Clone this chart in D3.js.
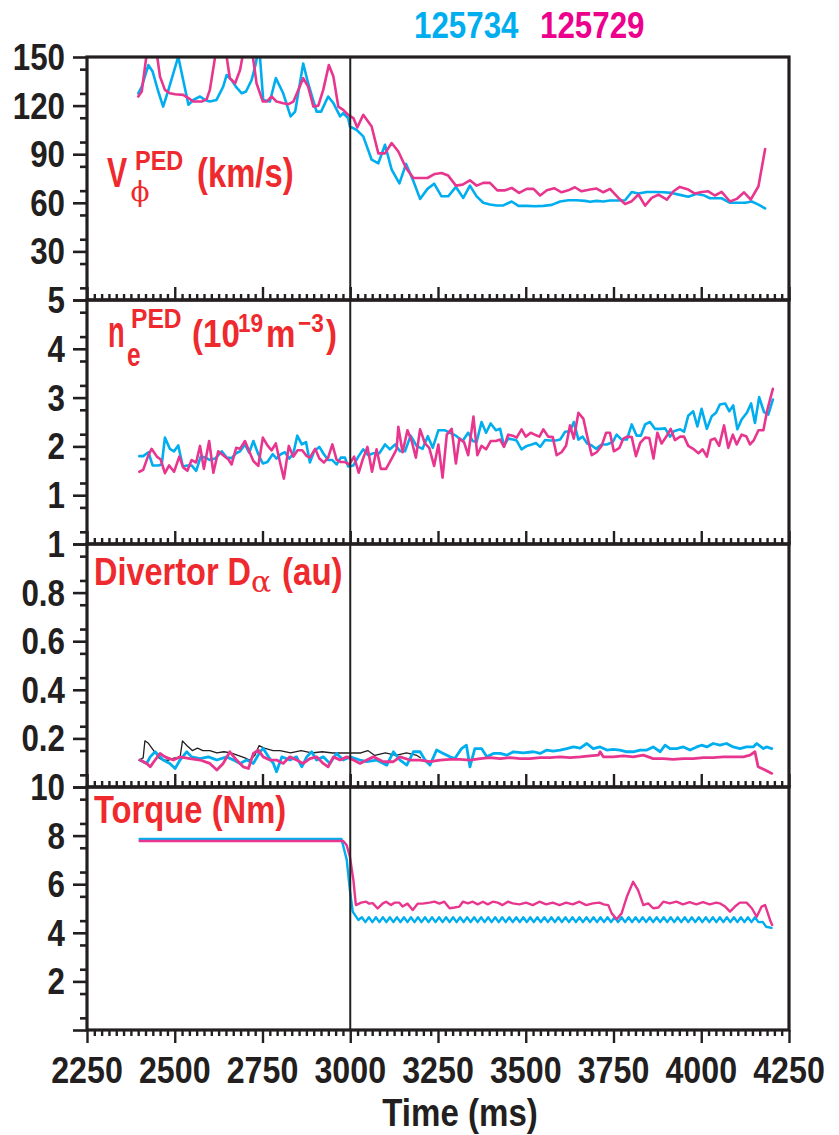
<!DOCTYPE html>
<html><head><meta charset="utf-8">
<script src="https://cdn.jsdelivr.net/npm/d3@7"></script>
<style>body{margin:0;background:#fff}svg{display:block}</style>
</head><body>
<svg id="chart" width="839" height="1135"></svg>
<script>
// ---------------- DATA ----------------
const shots = ["125734", "125729"];
const timeTicks = [2250, 2500, 2750, 3000, 3250, 3500, 3750, 4000, 4250];
const timeMarker = 3000;

const vphiTicks = [30, 60, 90, 120, 150];
const neTicks = [1, 2, 3, 4, 5];
const daTicks = [0.2, 0.4, 0.6, 0.8, 1];
const daTickLabels = ["0.2", "0.4", "0.6", "0.8", "1"];
const tqTicks = [2, 4, 6, 8, 10];

// V_phi pedestal (km/s)
const vphiCyan = [[2396,127.6],[2406,131.7],[2425,145],[2437,141],[2453,128.7],[2467,119.4],[2482,129.7],[2510,150.2],[2524,135.8],[2539,120.5],[2553,123.5],[2572,125.6],[2586,123.5],[2600,122.5],[2619,123.5],[2638,131.7],[2648,138.9],[2662,135.8],[2674,131.7],[2691,127.6],[2703,128.7],[2719,135.8],[2731,146],[2740,158],[2752,123.5],[2771,122.5],[2788,137],[2809,127.6],[2830,113.3],[2843,116.3],[2866,146],[2880,133.8],[2904,116.3],[2917,116.3],[2937,125.6],[2952,121.5],[2971,113.3],[2980,115.3],[2994,112.3],[2999,107.1],[3018,105],[3037,101],[3061,86.6],[3080,84.4],[3099,95.8],[3118,80.5],[3140,72],[3159,84],[3180,73.3],[3199,62.4],[3220,68.6],[3239,71.8],[3260,64],[3279,64],[3301,69.8],[3322,63],[3341,70.6],[3360,64],[3379,60],[3398,58.9],[3417,58.3],[3436,58.4],[3460,60.8],[3479,58.1],[3503,58.1],[3526,57.9],[3550,58.1],[3574,58.7],[3598,60.8],[3621,61.6],[3645,61.6],[3669,61.2],[3683,60.6],[3702,61.2],[3721,60.8],[3740,61.4],[3764,61.4],[3783,61.6],[3802,66.7],[3821,65.7],[3845,66.7],[3868,66.7],[3892,66.5],[3916,66.1],[3939,64.9],[3963,63.7],[3987,65.5],[4006,64.7],[4025,62.8],[4058,62.8],[4082,60],[4106,60],[4125,60],[4144,60.8],[4163,58.9],[4182,56.5]];
const vphiMagenta = [[2396,125.6],[2406,128.7],[2434,175],[2458,137.9],[2472,129.7],[2486,127.6],[2501,127],[2524,126.6],[2539,124.6],[2553,122.5],[2577,122.5],[2591,124],[2600,129.7],[2632,173],[2657,136.9],[2672,133.8],[2686,142],[2710,170],[2733,133.8],[2751,122.5],[2762,122.5],[2776,125.6],[2790,122.5],[2809,121.5],[2824,120.9],[2838,122.5],[2852,129.7],[2866,136.9],[2880,131.7],[2895,119.4],[2909,120],[2923,129.7],[2939,145],[2952,137.9],[2966,119.4],[2980,117.4],[2994,114.3],[3009,112.3],[3020,106.5],[3037,114.3],[3061,107.1],[3080,90.5],[3099,90.5],[3118,96.9],[3137,91.7],[3159,81.5],[3180,75.3],[3199,75.3],[3220,75.3],[3241,77.8],[3260,78.4],[3279,76.8],[3301,70.6],[3320,71.2],[3341,73.9],[3360,70.6],[3379,72.3],[3398,72.3],[3419,67.7],[3441,67.7],[3460,69.2],[3481,66.1],[3503,68.6],[3522,68.6],[3541,64.5],[3560,67.7],[3581,69],[3602,66.5],[3621,67.7],[3640,69.6],[3659,67.1],[3683,68.2],[3702,68.8],[3721,66.5],[3740,68.6],[3764,63],[3783,59.3],[3802,61],[3821,65.1],[3840,58.3],[3859,63],[3878,65.1],[3902,62],[3921,67.1],[3939,69.8],[3963,68.2],[3982,65.7],[4001,66.7],[4020,67.1],[4039,64.5],[4058,66.7],[4082,60.8],[4101,62.4],[4122,66.5],[4141,62],[4163,70.2],[4182,93.2]];

// n_e pedestal (1e19 m^-3)
const neCyan = [[2399,1.80],[2410,1.80],[2425,1.88],[2437,1.61],[2453,1.61],[2463,1.63],[2472,2.18],[2486,1.95],[2498,1.90],[2510,2.02],[2523,1.59],[2536,1.61],[2548,1.61],[2561,1.50],[2574,1.79],[2589,1.77],[2600,1.72],[2615,1.75],[2634,1.90],[2648,1.77],[2662,1.76],[2675,1.86],[2686,1.90],[2700,2.04],[2712,1.87],[2724,2.11],[2738,1.84],[2751,1.65],[2764,1.68],[2779,1.84],[2790,1.75],[2802,1.84],[2814,1.88],[2826,1.75],[2838,1.86],[2849,2.22],[2862,2.04],[2874,2.09],[2885,1.67],[2897,1.90],[2912,1.99],[2923,1.86],[2937,1.72],[2949,1.72],[2961,1.63],[2973,1.77],[2985,1.77],[2994,1.59],[3009,1.61],[3023,1.79],[3037,1.94],[3051,1.82],[3066,1.86],[3083,1.86],[3099,2.04],[3113,1.94],[3128,2.04],[3142,1.90],[3156,1.90],[3172,2.22],[3189,2.01],[3206,1.95],[3221,2.21],[3235,1.97],[3251,2.33],[3270,2.33],[3284,2.28],[3301,2.22],[3320,2.11],[3336,2.28],[3349,2.11],[3360,2.09],[3374,2.50],[3387,2.28],[3400,2.47],[3415,2.33],[3427,2.36],[3438,2.01],[3450,2.16],[3464,2.14],[3474,2.12],[3488,1.94],[3503,2.01],[3517,2.04],[3529,2.07],[3541,1.99],[3555,2.13],[3569,2.12],[3586,2.12],[3598,2.14],[3612,2.30],[3626,2.31],[3637,2.50],[3650,2.14],[3662,2.20],[3675,2.06],[3688,2.02],[3700,1.95],[3716,2.04],[3731,2.04],[3748,2.09],[3759,2.24],[3773,2.14],[3788,2.14],[3802,2.45],[3816,2.22],[3828,2.22],[3840,2.45],[3854,2.50],[3868,2.36],[3883,2.36],[3897,2.37],[3911,2.20],[3922,2.31],[3940,2.35],[3951,2.30],[3963,2.63],[3977,2.72],[3989,2.41],[4001,2.77],[4016,2.36],[4030,2.62],[4042,2.69],[4053,2.86],[4068,2.88],[4080,2.72],[4091,2.84],[4103,2.35],[4115,2.55],[4130,2.69],[4142,2.88],[4153,2.48],[4165,3.01],[4179,2.70],[4191,2.65],[4204,2.96]];
const neMagenta = [[2399,1.48],[2410,1.52],[2425,1.82],[2434,1.95],[2449,1.79],[2460,1.73],[2472,1.45],[2484,1.61],[2498,1.48],[2513,1.79],[2524,1.57],[2536,1.50],[2548,1.72],[2561,1.67],[2572,2.01],[2583,1.54],[2598,2.11],[2610,1.46],[2624,1.90],[2638,1.82],[2653,1.73],[2662,1.63],[2675,1.97],[2686,1.95],[2700,2.11],[2712,1.90],[2724,1.70],[2738,1.60],[2751,2.18],[2764,2.02],[2776,1.92],[2788,2.06],[2800,1.67],[2811,1.34],[2825,2.01],[2838,1.79],[2850,1.92],[2863,1.92],[2876,1.80],[2885,1.77],[2900,1.95],[2912,1.75],[2925,1.67],[2937,1.77],[2949,2.04],[2961,1.73],[2973,1.68],[2985,1.68],[2997,1.63],[3011,1.79],[3024,1.46],[3035,1.72],[3049,1.99],[3062,1.48],[3075,1.94],[3087,1.54],[3102,1.54],[3118,1.75],[3132,1.94],[3137,2.40],[3149,1.88],[3163,2.33],[3175,2.11],[3187,1.77],[3199,2.35],[3213,2.06],[3225,1.97],[3239,1.60],[3251,2.04],[3263,1.36],[3275,2.24],[3289,2.36],[3301,1.65],[3311,2.16],[3324,2.09],[3336,1.82],[3351,2.61],[3362,1.82],[3374,2.01],[3387,1.94],[3400,2.11],[3415,2.11],[3427,2.14],[3438,1.99],[3450,2.24],[3463,2.22],[3474,2.18],[3488,2.35],[3500,2.20],[3514,2.28],[3526,2.24],[3539,2.20],[3550,2.35],[3564,2.20],[3577,2.19],[3588,1.82],[3602,1.88],[3615,2.02],[3626,2.43],[3637,2.16],[3650,2.69],[3664,2.57],[3675,2.21],[3688,1.82],[3702,1.88],[3716,2.01],[3729,2.28],[3740,2.28],[3751,1.90],[3767,1.97],[3778,2.16],[3789,2.20],[3802,2.19],[3814,1.80],[3826,2.07],[3840,2.18],[3852,2.17],[3864,1.75],[3875,2.28],[3887,2.06],[3902,2.22],[3913,2.36],[3925,2.13],[3940,2.20],[3951,2.20],[3963,2.01],[3977,1.95],[3992,1.86],[4004,1.94],[4016,1.79],[4027,2.13],[4039,2.16],[4051,2.01],[4065,2.43],[4077,1.97],[4090,2.24],[4101,2.04],[4115,2.24],[4128,2.21],[4139,2.04],[4150,2.13],[4163,2.33],[4177,2.33],[4188,2.74],[4204,3.18]];

// Divertor D-alpha (au)
const daBlack = [[2398,0.11],[2410,0.12],[2415,0.19],[2425,0.18],[2440,0.15],[2455,0.12],[2466,0.11],[2480,0.11],[2500,0.12],[2515,0.12],[2522,0.19],[2535,0.17],[2550,0.15],[2565,0.16],[2580,0.15],[2600,0.15],[2620,0.14],[2640,0.145],[2660,0.14],[2680,0.13],[2700,0.12],[2714,0.11],[2728,0.13],[2740,0.17],[2755,0.16],[2780,0.15],[2800,0.15],[2830,0.14],[2860,0.15],[2890,0.14],[2920,0.145],[2950,0.14],[2980,0.14],[3000,0.14],[3030,0.14],[3050,0.15],[3070,0.13],[3100,0.14],[3130,0.13],[3160,0.14],[3190,0.13],[3200,0.12]];
const daCyan = [[2401,0.111],[2420,0.097],[2430,0.124],[2444,0.145],[2467,0.111],[2486,0.097],[2501,0.076],[2515,0.111],[2534,0.145],[2548,0.124],[2572,0.117],[2596,0.124],[2620,0.111],[2648,0.124],[2667,0.111],[2686,0.097],[2705,0.111],[2724,0.097],[2743,0.145],[2752,0.158],[2767,0.124],[2781,0.097],[2790,0.063],[2805,0.124],[2828,0.111],[2847,0.124],[2862,0.083],[2876,0.124],[2890,0.145],[2904,0.111],[2923,0.124],[2942,0.097],[2961,0.138],[2980,0.111],[2999,0.124],[3028,0.111],[3047,0.104],[3075,0.111],[3104,0.090],[3123,0.145],[3142,0.111],[3161,0.090],[3180,0.145],[3199,0.145],[3213,0.111],[3227,0.090],[3246,0.152],[3265,0.138],[3284,0.124],[3298,0.117],[3317,0.158],[3331,0.172],[3341,0.083],[3355,0.158],[3374,0.158],[3389,0.124],[3408,0.138],[3427,0.138],[3446,0.131],[3465,0.145],[3493,0.140],[3522,0.145],[3541,0.138],[3560,0.152],[3578,0.148],[3598,0.152],[3617,0.158],[3636,0.165],[3655,0.160],[3674,0.179],[3692,0.158],[3712,0.165],[3731,0.152],[3749,0.155],[3768,0.152],[3788,0.145],[3806,0.145],[3826,0.152],[3845,0.152],[3863,0.165],[3883,0.145],[3897,0.172],[3911,0.158],[3930,0.158],[3949,0.165],[3968,0.152],[3987,0.165],[4001,0.172],[4016,0.165],[4034,0.179],[4053,0.172],[4072,0.179],[4091,0.165],[4110,0.158],[4129,0.165],[4148,0.165],[4158,0.179],[4177,0.158],[4186,0.165],[4201,0.158]];
const daMagenta = [[2401,0.111],[2420,0.097],[2430,0.083],[2444,0.111],[2458,0.138],[2472,0.124],[2496,0.111],[2515,0.124],[2543,0.117],[2572,0.111],[2600,0.097],[2620,0.070],[2638,0.097],[2657,0.145],[2676,0.111],[2695,0.083],[2710,0.076],[2724,0.138],[2738,0.152],[2752,0.124],[2771,0.111],[2790,0.111],[2809,0.097],[2828,0.124],[2847,0.111],[2866,0.097],[2885,0.117],[2904,0.124],[2923,0.097],[2937,0.083],[2952,0.124],[2971,0.111],[2990,0.124],[3009,0.111],[3028,0.097],[3047,0.111],[3066,0.124],[3094,0.104],[3123,0.104],[3142,0.124],[3170,0.111],[3199,0.111],[3227,0.104],[3256,0.111],[3284,0.114],[3313,0.114],[3341,0.111],[3370,0.117],[3398,0.121],[3427,0.117],[3455,0.121],[3484,0.117],[3512,0.117],[3541,0.121],[3569,0.121],[3598,0.124],[3626,0.121],[3655,0.124],[3683,0.128],[3707,0.131],[3712,0.145],[3721,0.124],[3749,0.124],[3778,0.128],[3806,0.124],[3835,0.131],[3863,0.117],[3892,0.117],[3920,0.114],[3949,0.117],[3977,0.117],[4006,0.121],[4034,0.121],[4063,0.124],[4091,0.124],[4120,0.124],[4139,0.131],[4153,0.145],[4162,0.083],[4182,0.070],[4201,0.056]];

// Torque (Nm)
const tqCyanHead = [[2400,7.86],[2975,7.86],[2990,7.0],[2999,5.76],[3007,4.87],[3023,4.53]];
const tqCyanRippleStart = 3033, tqCyanRippleStep = 10;
const tqCyanRipple = [
 4.64,4.44,4.64,4.44,4.64,4.44,4.64,4.44,4.64,4.44,4.64,4.44,4.64,4.44,4.64,4.44,4.64,4.44,4.64,4.44,
 4.64,4.44,4.64,4.44,4.64,4.44,4.64,4.44,4.64,4.44,4.64,4.44,4.64,4.44,4.64,4.44,4.64,4.44,4.64,4.44,
 4.64,4.44,4.64,4.44,4.64,4.44,4.64,4.44,4.64,4.44,4.64,4.44,4.64,4.44,4.64,4.44,4.64,4.44,4.64,4.44,
 4.64,4.44,4.64,4.44,4.64,4.44,4.64,4.44,4.64,4.44,4.64,4.44,4.64,4.44,4.64,4.44,4.64,4.44,4.64,4.44,
 4.64,4.44,4.64,4.44,4.64,4.44,4.64,4.44,4.64,4.44,4.64,4.44,4.64,4.44,4.64,4.44,4.64,4.44,4.64,4.44,
 4.64,4.44,4.64,4.44,4.64,4.44,4.64,4.44,4.64,4.44,4.64,4.44,4.64,4.44];
const tqCyanTail = [[4175,4.45],[4185,4.25],[4200,4.2]];
const tqMagenta = [[2400,7.78],[2980,7.78],[2990,7.6],[2999,7.13],[3009,6.17],[3016,5.14],[3025,5.2],[3031,5.24],[3045,5.28],[3054,5.2],[3064,5.22],[3078,5.0],[3092,5.2],[3102,5.28],[3116,5.14],[3126,5.24],[3140,5.24],[3149,5.08],[3163,5.2],[3178,4.94],[3192,5.2],[3206,5.2],[3226,5.24],[3240,5.28],[3254,5.2],[3268,5.28],[3283,5.01],[3297,5.04],[3311,5.08],[3321,5.28],[3335,5.21],[3349,5.28],[3363,5.17],[3378,5.28],[3392,5.17],[3406,5.28],[3420,5.24],[3434,5.14],[3449,5.28],[3463,5.21],[3482,5.17],[3501,5.24],[3520,5.14],[3539,5.28],[3558,5.17],[3577,5.24],[3596,5.14],[3615,5.24],[3634,5.17],[3653,5.28],[3672,5.14],[3691,5.21],[3710,5.24],[3722,5.17],[3735,5.14],[3745,4.8],[3759,4.56],[3773,4.8],[3788,5.48],[3806,6.10],[3820,5.76],[3835,5.14],[3849,5.21],[3863,5.01],[3878,5.04],[3892,5.28],[3910,5.21],[3929,5.28],[3948,5.17],[3967,5.26],[3986,5.17],[4005,5.26],[4024,5.17],[4043,5.24],[4055,5.2],[4068,5.08],[4082,4.87],[4096,5.08],[4110,5.24],[4129,5.24],[4144,5.01],[4158,4.66],[4172,5.08],[4182,5.14],[4196,4.53],[4202,4.32]];

// ---------------- DRAWING ----------------
const CYAN = "#00AEEF", MAG = "#E8368F", MAGTXT = "#EC008C", RED = "#EE2A2E", INK = "#231F20";
const SANS = "'Liberation Sans', Arial, Helvetica, sans-serif";
const SERIF = "'DejaVu Serif', 'Liberation Serif', serif";
const SX = 0.87;

const svg = d3.select("#chart");
const x = d3.scaleLinear().domain([2250, 4250]).range([87, 789]);

function txt(px, py, s, size, color, o = {}) {
  return svg.append("text")
    .attr("transform", `translate(${px},${py}) scale(${o.sx || SX},1)`)
    .attr("text-anchor", o.anchor || "start")
    .attr("font-family", o.family || SANS)
    .attr("font-weight", o.weight || "bold")
    .attr("font-size", size)
    .attr("fill", color)
    .text(s);
}

const panels = [
  { top: 57,  bottom: 300,  max: 150, ticks: vphiTicks, labels: vphiTicks.map(String), minorStep: 15,
    series: [[vphiCyan, CYAN, 2.6], [vphiMagenta, MAG, 2.6]] },
  { top: 300, bottom: 544,  max: 5,   ticks: neTicks, labels: neTicks.map(String), minorStep: 0.5,
    series: [[neCyan, CYAN, 2.6], [neMagenta, MAG, 2.6]] },
  { top: 544, bottom: 787,  max: 1,   ticks: daTicks, labels: daTickLabels, minorStep: 0.1,
    series: [[daBlack, INK, 1.3], [daCyan, CYAN, 2.8], [daMagenta, MAG, 2.8]] },
  { top: 787, bottom: 1030, max: 10,  ticks: tqTicks, labels: tqTicks.map(String), minorStep: 1,
    series: [[tqCyanHead.concat(tqCyanRipple.map((v, i) => [tqCyanRippleStart + i * tqCyanRippleStep, v]), tqCyanTail), CYAN, 2.4],
             [tqMagenta, MAG, 2.4]] }
];

const majorX = timeTicks;
const minorX = d3.range(0, 97).map(i => 2250 + i * 250 / 12).filter((t, i) => i % 12 !== 0);

panels.forEach((p, pi) => {
  const y = d3.scaleLinear().domain([0, p.max]).range([p.bottom, p.top]);
  const cid = "clip" + pi;
  svg.append("clipPath").attr("id", cid).append("rect")
    .attr("x", 87).attr("y", p.top).attr("width", 789 - 87).attr("height", p.bottom - p.top);

  const g = svg.append("g").attr("clip-path", `url(#${cid})`);
  const line = d3.line().x(d => x(d[0])).y(d => y(d[1]));
  p.series.forEach(([data, color, w]) => {
    g.append("path").datum(data).attr("d", line)
      .attr("fill", "none").attr("stroke", color).attr("stroke-width", w)
      .attr("stroke-linejoin", "round").attr("stroke-linecap", "round");
  });

  // y axis ticks
  const majors = [0].concat(p.ticks);
  const minors = d3.range(0, Math.round(p.max / p.minorStep)).map(i => (i + 0.5) * p.minorStep).filter(v => !majors.some(m => Math.abs(m - v) < 1e-9));
  const ya = svg.append("g").attr("transform", "translate(87,0)")
    .call(d3.axisLeft(y).tickValues(majors).tickSize(14).tickFormat(""));
  const ym = svg.append("g").attr("transform", "translate(87,0)")
    .call(d3.axisLeft(y).tickValues(minors).tickSize(7).tickFormat(""));
  [ya, ym].forEach(a => { a.select(".domain").remove(); a.selectAll("line").attr("stroke", INK).attr("stroke-width", 2.6); });

  p.ticks.forEach((v, i) => {
    txt(65, y(v) + 13, p.labels[i], 36, INK, { anchor: "end" });
  });

  // x axis ticks
  const last = pi === panels.length - 1;
  const mk = last ? d3.axisBottom : d3.axisTop;
  const xa = svg.append("g").attr("transform", `translate(0,${p.bottom})`)
    .call(mk(x).tickValues(majorX).tickSize(13).tickFormat(""));
  const xm = svg.append("g").attr("transform", `translate(0,${p.bottom})`)
    .call(mk(x).tickValues(minorX).tickSize(6).tickFormat(""));
  [xa, xm].forEach(a => { a.select(".domain").remove(); a.selectAll("line").attr("stroke", INK).attr("stroke-width", 2.4); });

  // frame
  svg.append("rect").attr("x", 87).attr("y", p.top).attr("width", 789 - 87).attr("height", p.bottom - p.top)
    .attr("fill", "none").attr("stroke", INK).attr("stroke-width", 3.2);
});

// vertical marker
svg.append("line").attr("x1", x(timeMarker)).attr("x2", x(timeMarker))
  .attr("y1", 57).attr("y2", 1030).attr("stroke", INK).attr("stroke-width", 2);

// x tick labels
timeTicks.forEach(t => txt(x(t), 1083, String(t), 37, INK, { anchor: "middle" }));
txt(460, 1126, "Time (ms)", 38, INK, { anchor: "middle" });

// legend
txt(414, 38, shots[0], 36, CYAN);
txt(540, 38, shots[1], 36, MAGTXT);

// panel labels
txt(107, 187, "V", 42, RED, { sx: 0.72 });
txt(135, 170, "PED", 27, RED);
txt(140, 201, "\u03D5", 28, RED, { anchor: "middle", family: SERIF, weight: "normal", sx: 1 });
txt(197, 187, "(km/s)", 40, RED, { sx: 0.82 });

txt(108, 347, "n", 44, RED, { sx: 0.62 });
txt(127, 366, "e", 34, RED, { sx: 0.72 });
txt(131, 328, "PED", 28, RED, { sx: 0.88 });
txt(192, 347, "(10", 38, RED);
txt(238, 332, "19", 26, RED);
txt(266, 347, "m", 38, RED);
txt(298, 332, "\u22123", 26, RED);
txt(326, 347, ")", 38, RED);

txt(94, 585, "Divertor D", 38, RED, { sx: 0.855 });
txt(251, 592, "\u03B1", 30, RED, { family: SERIF, weight: "normal", sx: 1 });
txt(282, 585, "(au)", 38, RED, { sx: 0.87 });

txt(94, 823, "Torque (Nm)", 39, RED, { sx: 0.84 });
</script>
</body></html>
